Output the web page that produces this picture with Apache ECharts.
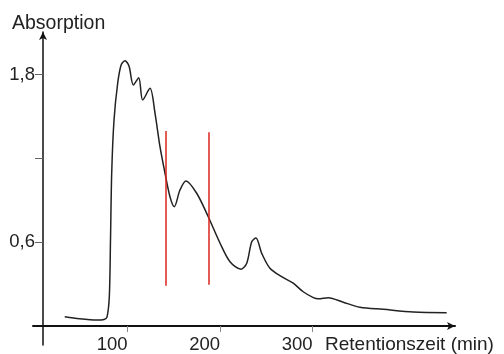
<!DOCTYPE html>
<html>
<head>
<meta charset="utf-8">
<script src="https://cdn.jsdelivr.net/npm/echarts@6/dist/echarts.min.js"></script>
<style>html,body{margin:0;padding:0;background:#fff}#c{width:504px;height:354px}</style>
</head>
<body>
<div id="c"></div>
<script>
// Retention time (min)
var times = [32, 48, 67, 74.5, 77.7, 80.2, 81.5, 82.8, 85.3, 89.3, 93, 97.2, 101.5, 106.2, 112, 116.3, 124.2, 129.6, 135, 140.4, 145.8, 150.5, 156.6, 163.1, 174.7, 187.2, 200, 210.7, 222.6, 228.8, 234.2, 238.8, 245, 253.9, 266.6, 279.1, 289.9, 300.8, 306.2, 317, 333.2, 351.2, 376.4, 408.9, 445];
// Absorption
var absorption = [0.067, 0.052, 0.043, 0.047, 0.064, 0.208, 0.615, 1.095, 1.474, 1.739, 1.868, 1.898, 1.86, 1.725, 1.777, 1.617, 1.701, 1.524, 1.283, 1.095, 0.925, 0.854, 0.973, 1.038, 0.95, 0.782, 0.592, 0.46, 0.406, 0.449, 0.603, 0.63, 0.52, 0.413, 0.353, 0.306, 0.245, 0.203, 0.195, 0.203, 0.17, 0.134, 0.119, 0.1, 0.095];
// Fraction cut markers (time, from absorption, to absorption)
var markerTimes = [141.2, 187.2];
var markerLow = [0.288, 0.295];
var markerHigh = [1.395, 1.387];
var xTicks = [100, 200, 300];
var yTicks = [0.6, 1.2, 1.8];
var yLabels = [0.6, 1.8];

var chart = echarts.init(document.getElementById('c'), null, {renderer: 'canvas'});
var font = '"Liberation Sans", Arial, sans-serif';
var pts = times.map(function (t, i) { return [t, absorption[i]]; });
var marks = markerTimes.map(function (t, i) {
  return [{coord: [t, markerLow[i]]}, {coord: [t, markerHigh[i]]}];
});
chart.setOption({
  animation: false,
  title: {
    text: 'Absorption', left: 12, top: 14, padding: 0,
    textStyle: {fontFamily: font, fontSize: 19.5, fontWeight: 'normal', color: '#222'}
  },
  grid: {left: 33, right: 49, top: 32, bottom: 9, containLabel: false, outerBoundsMode: 'none'},
  xAxis: {
    type: 'value', min: -2.3, max: 454,
    splitLine: {show: false},
    axisLine: {onZero: true, symbol: ['none', 'arrow'], symbolSize: [6, 8], lineStyle: {color: '#111', width: 2}},
    axisTick: {show: true, customValues: xTicks, length: 6, lineStyle: {color: '#888', width: 1}},
    axisLabel: {customValues: xTicks, align: 'right', margin: -8, lineHeight: 16, fontFamily: font, fontSize: 18.5, color: '#222'}
  },
  yAxis: {
    type: 'value', min: -0.136, max: 2.104, offset: -10,
    splitLine: {show: false},
    axisLine: {onZero: false, symbol: ['none', 'arrow'], symbolSize: [6, 8], lineStyle: {color: '#111', width: 1.5}},
    axisTick: {show: true, customValues: yTicks, length: 8, lineStyle: {color: '#666', width: 1}},
    axisLabel: {customValues: yLabels, margin: 8, fontFamily: font, fontSize: 18.5, color: '#222',
      formatter: function (v) { return String(v).replace('.', ','); }}
  },
  graphic: [{
    type: 'text', left: 325, top: 335,
    style: {text: 'Retentionszeit (min)', font: '19px ' + font, fill: '#222'}
  }],
  series: [{
    type: 'line', data: pts, smooth: 0.3, showSymbol: false,
    lineStyle: {color: '#222', width: 1.5},
    markLine: {
      silent: true, symbol: ['none', 'none'], label: {show: false},
      lineStyle: {color: '#d9251c', width: 1.5, type: 'solid'},
      data: marks
    }
  }]
});
</script>
</body>
</html>
